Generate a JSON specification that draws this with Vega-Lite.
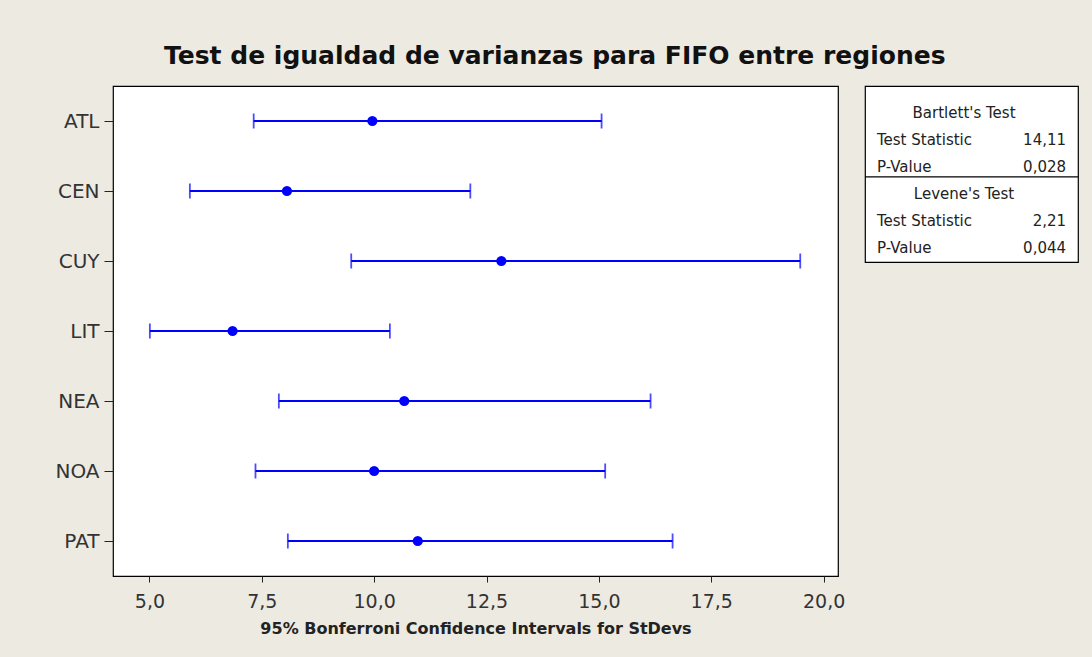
{
  "$schema": "https://vega.github.io/schema/vega-lite/v6.json",
  "background": "#EDEAE2",
  "padding": {"left": 54, "top": 44, "right": 15, "bottom": 21},
  "title": {"text": "Test de igualdad de varianzas para FIFO entre regiones", "font": "DejaVu Sans", "fontSize": 25, "fontWeight": "bold", "color": "#111111", "anchor": "middle", "offset": 16, "dx": -12},
  "spacing": 27,
  "bounds": "flush",
  "config": {"view": {"stroke": "#000000", "strokeWidth": 1.2, "fill": "white"}, "font": "DejaVu Sans"},
  "datasets": {
    "ci": [
      {"region": "ATL", "lower": 7.32, "sd": 9.96, "upper": 15.06},
      {"region": "CEN", "lower": 5.90, "sd": 8.06, "upper": 12.14},
      {"region": "CUY", "lower": 9.49, "sd": 12.83, "upper": 19.48},
      {"region": "LIT", "lower": 5.01, "sd": 6.85, "upper": 10.35},
      {"region": "NEA", "lower": 7.88, "sd": 10.67, "upper": 16.15},
      {"region": "NOA", "lower": 7.36, "sd": 10.00, "upper": 15.14},
      {"region": "PAT", "lower": 8.08, "sd": 10.97, "upper": 16.64}
    ],
    "tests": [
      {"line": 1, "kind": "header", "text": "Bartlett's Test"},
      {"line": 2, "kind": "label", "text": "Test Statistic"},
      {"line": 2, "kind": "value", "text": "14,11"},
      {"line": 3, "kind": "label", "text": "P-Value"},
      {"line": 3, "kind": "value", "text": "0,028"},
      {"line": 4, "kind": "header", "text": "Levene's Test"},
      {"line": 5, "kind": "label", "text": "Test Statistic"},
      {"line": 5, "kind": "value", "text": "2,21"},
      {"line": 6, "kind": "label", "text": "P-Value"},
      {"line": 6, "kind": "value", "text": "0,044"}
    ]
  },
  "hconcat": [
    {
      "width": 725,
      "height": 490,
      "data": {"name": "ci"},
      "encoding": {
        "y": {"field": "region", "type": "nominal", "sort": null,
          "scale": {"type": "point", "padding": 0.5},
          "axis": {"title": null, "labelFont": "DejaVu Sans", "labelFontSize": 20, "labelColor": "#333333", "tickColor": "#222222", "tickSize": 9, "labelPadding": 5, "domain": false, "grid": false}}
      },
      "layer": [
        {
          "mark": {"type": "rule", "color": "#0000FF", "strokeWidth": 1.8},
          "encoding": {
            "x": {"field": "lower", "type": "quantitative",
              "scale": {"domain": [4.19, 20.32], "nice": false, "zero": false},
              "axis": {"title": "95% Bonferroni Confidence Intervals for StDevs", "titleFont": "DejaVu Sans", "titleFontSize": 16, "titleFontWeight": "bold", "titleColor": "#222222", "values": [5, 7.5, 10, 12.5, 15, 17.5, 20], "labelExpr": "replace(format(datum.value, '.1f'), '.', ',')", "labelFont": "DejaVu Sans", "labelFontSize": 19, "labelColor": "#333333", "tickSize": 6, "tickColor": "#222222", "domain": false, "grid": false, "labelPadding": 10, "titlePadding": 9}},
            "x2": {"field": "upper"}
          }
        },
        {
          "mark": {"type": "tick", "color": "#0000FF", "thickness": 1.8, "size": 15, "orient": "vertical"},
          "encoding": {"x": {"field": "lower", "type": "quantitative"}}
        },
        {
          "mark": {"type": "tick", "color": "#0000FF", "thickness": 1.8, "size": 15, "orient": "vertical"},
          "encoding": {"x": {"field": "upper", "type": "quantitative"}}
        },
        {
          "mark": {"type": "point", "filled": true, "color": "#0000FF", "size": 105, "opacity": 1},
          "encoding": {"x": {"field": "sd", "type": "quantitative"}}
        }
      ]
    },
    {
      "width": 213,
      "height": 176,
      "layer": [
        {
          "data": {"values": [{}]},
          "mark": {"type": "rule", "color": "#000000", "strokeWidth": 1.2},
          "encoding": {"y": {"datum": 3.37, "type": "quantitative", "scale": {"domain": [0, 6.52], "reverse": true, "nice": false, "zero": false}, "axis": null}}
        },
        {
          "data": {"name": "tests"},
          "transform": [{"filter": "datum.kind === 'header'"}],
          "mark": {"type": "text", "align": "center", "baseline": "middle", "font": "DejaVu Sans", "fontSize": 15, "color": "#222222"},
          "encoding": {
            "x": {"datum": 0.465, "type": "quantitative", "scale": {"domain": [0, 1], "nice": false, "zero": false}, "axis": null},
            "y": {"field": "line", "type": "quantitative", "scale": {"domain": [0, 6.52], "reverse": true, "nice": false, "zero": false}, "axis": null},
            "text": {"field": "text"}
          }
        },
        {
          "data": {"name": "tests"},
          "transform": [{"filter": "datum.kind === 'label'"}],
          "mark": {"type": "text", "align": "left", "baseline": "middle", "font": "DejaVu Sans", "fontSize": 15, "color": "#222222"},
          "encoding": {
            "x": {"datum": 0.056, "type": "quantitative", "scale": {"domain": [0, 1], "nice": false, "zero": false}, "axis": null},
            "y": {"field": "line", "type": "quantitative", "scale": {"domain": [0, 6.52], "reverse": true, "nice": false, "zero": false}, "axis": null},
            "text": {"field": "text"}
          }
        },
        {
          "data": {"name": "tests"},
          "transform": [{"filter": "datum.kind === 'value'"}],
          "mark": {"type": "text", "align": "right", "baseline": "middle", "font": "DejaVu Sans", "fontSize": 15, "color": "#222222"},
          "encoding": {
            "x": {"datum": 0.944, "type": "quantitative", "scale": {"domain": [0, 1], "nice": false, "zero": false}, "axis": null},
            "y": {"field": "line", "type": "quantitative", "scale": {"domain": [0, 6.52], "reverse": true, "nice": false, "zero": false}, "axis": null},
            "text": {"field": "text"}
          }
        }
      ]
    }
  ]
}
